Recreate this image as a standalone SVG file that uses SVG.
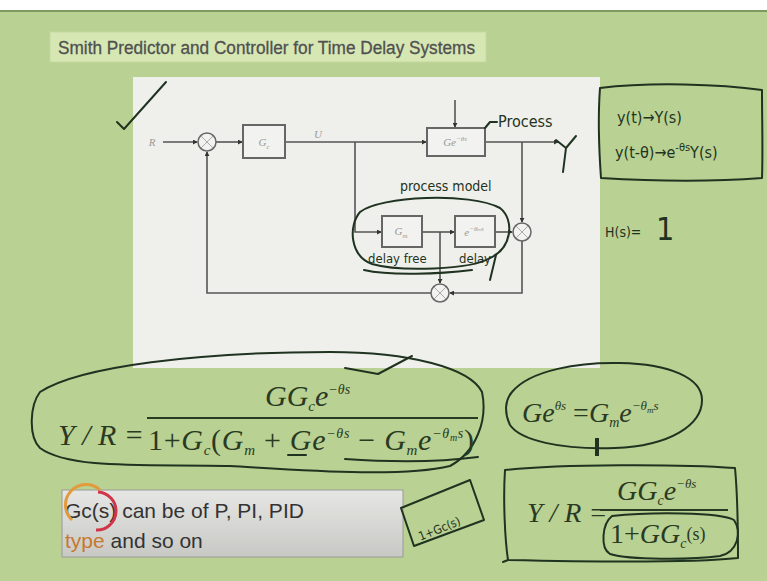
<svg xmlns="http://www.w3.org/2000/svg" width="767" height="581" viewBox="0 0 767 581">
<defs>
<marker id="dot" viewBox="0 0 6 6" refX="5" refY="3" markerWidth="5" markerHeight="5" orient="auto" markerUnits="userSpaceOnUse">
<path d="M0,0 L6,3 L0,6 z" fill="#333"/>
</marker>
<linearGradient id="gray" x1="0" y1="0" x2="0" y2="1">
<stop offset="0" stop-color="#e6e6e4"/>
<stop offset="1" stop-color="#c8c9c5"/>
</linearGradient>
</defs>
<style>
.ln{fill:none;stroke:#555;stroke-width:1.6}
.bx{fill:#f2f2f0;stroke:#666;stroke-width:2}
.sj{fill:#f2f2f0;stroke:#666;stroke-width:1.5}
.bl{font-family:"Liberation Serif",serif;font-style:italic;font-size:11px;fill:#999;text-anchor:middle}
.hw{fill:none;stroke:#1f3320;stroke-width:2;stroke-linecap:round;stroke-linejoin:round}
.ht{font-family:"DejaVu Sans Condensed","DejaVu Sans",sans-serif;fill:#1f3320}
.eq{font-family:"Liberation Serif",serif;font-style:italic;fill:#2a3a22}
.up{font-family:"Liberation Serif",serif;font-style:normal}
</style>
<rect width="767" height="581" fill="#b9d193"/>
<rect width="767" height="10" fill="#ffffff"/>
<rect y="10" width="767" height="2" fill="#7e9a60"/>
<g id="title">
<rect x="50" y="32" width="436" height="30" fill="#d6e7b4" stroke="#c4d8a0"/>
<text x="58" y="54" font-family="Liberation Sans,Arial,sans-serif" font-size="18" fill="#505050" stroke="#505050" stroke-width="0.3" textLength="417" lengthAdjust="spacingAndGlyphs">Smith Predictor and Controller for Time Delay Systems</text>
</g>
<rect id="panel" x="133" y="77" width="467" height="291" fill="#eff0ec"/>
<g id="connectors">
<path class="ln" d="M163,142 H197" marker-end="url(#dot)"/>
<path class="ln" d="M216,142 H242" marker-end="url(#dot)"/>
<path class="ln" d="M285,142 H426" marker-end="url(#dot)"/>
<path class="ln" d="M455,100 V127" marker-end="url(#dot)"/>
<path class="ln" d="M485,142 H558" marker-end="url(#dot)"/>
<path class="ln" d="M355,142 V232 H381" marker-end="url(#dot)"/>
<path class="ln" d="M422,232 H454" marker-end="url(#dot)"/>
<path class="ln" d="M495,232 H512" marker-end="url(#dot)"/>
<path class="ln" d="M522,142 V222" marker-end="url(#dot)"/>
<path class="ln" d="M522,241 V293 H450" marker-end="url(#dot)"/>
<path class="ln" d="M440,232 V283" marker-end="url(#dot)"/>
<path class="ln" d="M431,293 H207 V152" marker-end="url(#dot)"/>
</g>
<text x="152" y="146" class="bl" fill="#777">R</text>
<text x="318" y="138" class="bl">U</text>
<g id="sum1"><circle class="sj" cx="207" cy="142" r="9"/><path d="M201,136 L213,148 M213,136 L201,148" stroke="#999" stroke-width="0.8"/></g>
<g id="Gc"><rect class="bx" x="243" y="125" width="42" height="33"/><text class="bl" x="264" y="146">G<tspan font-size="7" dy="3">c</tspan></text></g>
<g id="process"><rect class="bx" x="427" y="128" width="58" height="28"/><text class="bl" x="455" y="146">Ge<tspan font-size="7" dy="-5">−θs</tspan></text></g>
<g id="Gm"><rect class="bx" x="382" y="216" width="40" height="31"/><text class="bl" x="401" y="235">G<tspan font-size="7" dy="3">m</tspan></text></g>
<g id="delay"><rect class="bx" x="455" y="216" width="40" height="31"/><text class="bl" x="474" y="236">e<tspan font-size="7" dy="-5">−θ<tspan font-size="5">m</tspan>s</tspan></text></g>
<g id="sum2"><circle class="sj" cx="522" cy="232" r="9"/><path d="M516,226 L528,238 M528,226 L516,238" stroke="#999" stroke-width="0.8"/></g>
<g id="sum3"><circle class="sj" cx="440" cy="293" r="9"/><path d="M434,287 L446,299 M446,287 L434,299" stroke="#999" stroke-width="0.8"/></g>
<g id="handwriting-diagram">
<path class="hw" d="M117,122 L124,129 L166,82"/>
<path class="hw" d="M485,128 L490,122 L497,122"/>
<text class="ht" x="498" y="127" font-size="16">Process</text>
<text class="ht" x="400" y="191" font-size="14">process model</text>
<path class="hw" d="M360,212 C380,196 470,192 500,208 C515,220 512,248 490,258 C470,270 400,272 372,264 C350,256 348,226 360,212 Z"/>
<path class="hw" d="M364,270 C390,276 440,274 472,270"/>
<text class="ht" x="368" y="263" font-size="13">delay free</text>
<text class="ht" x="459" y="263" font-size="13">delay</text>
<path class="hw" d="M496,255 L490,280"/>
<path class="hw" d="M556,140 L566,148 L576,136 M566,148 L563,172"/>
</g>
<g id="transform-box">
<path class="hw" d="M600,88 C650,82 720,84 762,90 C762,120 763,150 762,178 C710,182 650,181 601,178 C599,150 598,115 600,88 Z"/>
<text class="ht" x="617" y="123" font-size="16">y(t)→Y(s)</text>
<text class="ht" x="615" y="158" font-size="16">y(t-θ)→e<tspan font-size="11" dy="-7">-θs</tspan><tspan dy="7">Y(s)</tspan></text>
</g>
<g id="H">
<text class="ht" x="605" y="237" font-size="14">H(s)=</text>
<text class="ht" x="656" y="240" font-size="32">1</text>
</g>
<g id="eq1">
<path class="hw" d="M40,392 C80,366 200,352 330,352 C410,352 470,368 482,392 C488,420 476,452 450,466 C400,478 300,470 230,466 C150,464 70,470 40,448 C28,436 30,405 40,392 Z"/>
<path class="hw" d="M345,368 L378,374 L412,356"/>
<text class="eq" x="58" y="445" font-size="30">Y / R =</text>
<line x1="147" y1="418" x2="478" y2="418" stroke="#2a3a22" stroke-width="1.8"/>
<text class="eq" x="265" y="406" font-size="30">GG<tspan font-size="15" dy="5">c</tspan><tspan dy="-5">e</tspan><tspan font-size="14" dy="-12">−θs</tspan></text>
<text class="eq" x="148" y="450" font-size="30" textLength="326" lengthAdjust="spacing"><tspan class="up">1+</tspan>G<tspan font-size="15" dy="5">c</tspan><tspan class="up" dy="-5">(</tspan>G<tspan font-size="15" dy="5">m</tspan><tspan class="up" dy="-5"> + </tspan>Ge<tspan font-size="14" dy="-12">−θs</tspan><tspan class="up" dy="12"> − </tspan>G<tspan font-size="15" dy="5">m</tspan><tspan dy="-5">e</tspan><tspan font-size="14" dy="-12">−θ<tspan font-size="10" dy="3">m</tspan><tspan dy="-3">s</tspan></tspan><tspan class="up" dy="12">)</tspan></text>
<path class="hw" d="M288,455 H306"/>
<path class="hw" d="M345,459 C390,462 440,462 478,457"/>
</g>
<g id="eq2">
<path class="hw" d="M512,392 C530,370 580,362 620,363 C670,364 702,378 702,400 C702,425 670,446 615,448 C560,450 520,440 510,425 C504,412 505,400 512,392 Z"/>
<path d="M597,438 V456" stroke="#1f3320" stroke-width="4"/>
<text class="eq" x="522" y="422" font-size="28">Ge<tspan font-size="13" dy="-12">θs</tspan><tspan class="up" dy="12"> =</tspan>G<tspan font-size="14" dy="5">m</tspan><tspan dy="-5">e</tspan><tspan font-size="13" dy="-12">−θ<tspan font-size="9" dy="3">m</tspan><tspan dy="-3">s</tspan></tspan></text>
</g>
<g id="note">
<rect x="62" y="490" width="341" height="67" fill="url(#gray)" stroke="#9a9a98"/>
<text x="65" y="518" font-family="Liberation Sans,Arial,sans-serif" font-size="21" fill="#333">Gc(s)  can be of P, PI, PID</text>
<text x="65" y="548" font-family="Liberation Sans,Arial,sans-serif" font-size="21" fill="#333"><tspan fill="#c8782e">type</tspan> and so on</text>
<path d="M72,520 A20,20 0 0 1 100,490" fill="none" stroke="#e39a3a" stroke-width="3"/>
<path d="M98,492 A18,18 0 0 1 96,530" fill="none" stroke="#d2344a" stroke-width="3"/>
</g>
<g id="small-box">
<path class="hw" d="M401,508 L470,480 L484,520 L414,546 Z"/>
<text class="ht" x="414" y="532" font-size="12" transform="rotate(-22 440 520)">1+Gc(s)</text>
</g>
<g id="eq3">
<path class="hw" d="M505,470 C560,464 680,464 735,468 C738,500 738,530 738,558 C700,562 600,562 508,560 L503,562 M505,470 C503,500 505,540 508,560"/>
<text class="eq" x="527" y="522" font-size="28">Y / R =</text>
<line x1="600" y1="510" x2="728" y2="510" stroke="#2a3a22" stroke-width="1.8"/>
<text class="eq" x="617" y="500" font-size="28">GG<tspan font-size="14" dy="5">c</tspan><tspan dy="-5">e</tspan><tspan font-size="13" dy="-12">−θs</tspan></text>
<text class="eq" x="610" y="543" font-size="28"><tspan class="up">1+</tspan>GG<tspan font-size="14" dy="5">c</tspan><tspan font-size="18" dy="-8" class="up">(s)</tspan></text>
<path class="hw" d="M612,516 C650,512 720,512 734,520 C742,532 738,552 720,556 C690,560 630,560 610,554 C600,548 602,524 612,516 Z"/>
</g>
</svg>
